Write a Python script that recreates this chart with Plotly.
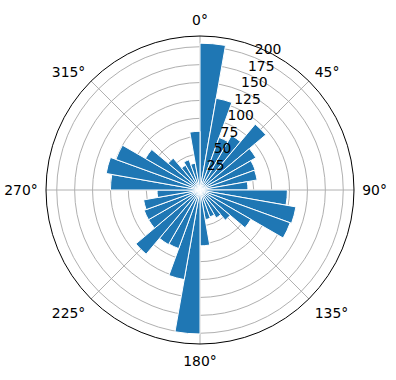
import plotly.graph_objects as go

# 36 direction bins of 10 degrees (bin start angles) and counts
bin_start = list(range(0, 360, 10))
counts = [205, 130, 78, 88, 120, 90, 82, 81, 67,
          122, 136, 134, 82, 55, 45, 40, 42, 78,
          201, 127, 87, 88, 117, 83, 83, 80, 60,
          125, 133, 125, 88, 58, 40, 45, 38, 82]
r_ticks = [25, 50, 75, 100, 125, 150, 175, 200]
r_label_angle = 22.5
theta_ticks = [0, 45, 90, 135, 180, 225, 270, 315]
theta_labels = ["0°", "45°", "90°", "135°", "180°", "225°", "270°", "315°"]

centers = [b + 5 for b in bin_start]

fig = go.Figure()
fig.add_trace(go.Barpolar(
    r=counts,
    theta=centers,
    width=[10] * len(counts),
    marker=dict(color="#1f77b4", line=dict(color="white", width=1)),
    opacity=1,
))
fig.add_trace(go.Scatterpolar(
    r=r_ticks,
    theta=[r_label_angle] * len(r_ticks),
    mode="text",
    text=[str(v) for v in r_ticks],
    textposition="top right",
    textfont=dict(family="DejaVu Sans", size=13.9, color="black"),
    hoverinfo="skip",
))

W, H = 396, 380
cx, cy, R = 200, 190, 154
fig.update_layout(
    width=W, height=H,
    margin=dict(l=0, r=0, t=0, b=0),
    paper_bgcolor="white",
    showlegend=False,
    font=dict(family="DejaVu Sans", size=13.9, color="black"),
    polar=dict(
        domain=dict(x=[(cx - R) / W, (cx + R) / W], y=[(H - cy - R) / H, (H - cy + R) / H]),
        bgcolor="white",
        bargap=0,
        angularaxis=dict(
            direction="clockwise", rotation=90,
            tickmode="array", tickvals=theta_ticks, ticktext=theta_labels,
            showgrid=True, gridcolor="#b0b0b0", gridwidth=0.8,
            showline=True, linecolor="black", linewidth=1,
            ticks="outside", ticklen=5, tickcolor="rgba(0,0,0,0)",
            layer="above traces",
        ),
        radialaxis=dict(
            range=[0, 215], angle=67.5,
            tickmode="array", tickvals=r_ticks,
            showticklabels=False,
            showgrid=True, gridcolor="#b0b0b0", gridwidth=0.8,
            showline=False, ticks="", layer="above traces",
        ),
    ),
)

fig.write_html("out.html")
